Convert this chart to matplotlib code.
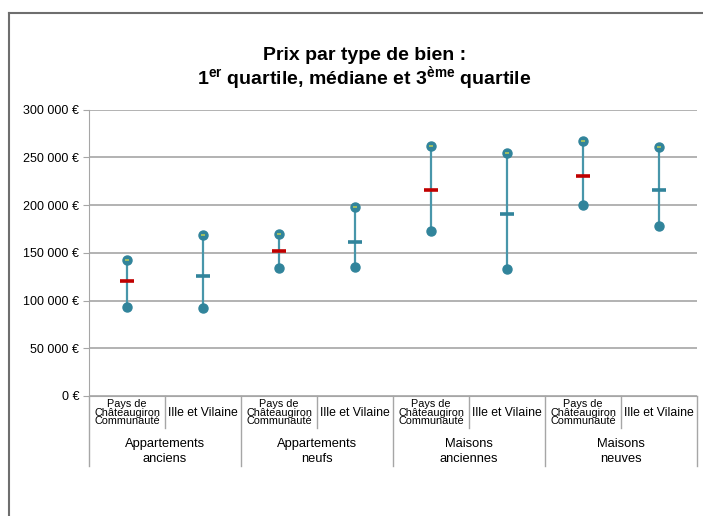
import matplotlib
matplotlib.use("Agg")
import matplotlib.pyplot as plt
from matplotlib.lines import Line2D

# valeurs
territoires = ["Pays de\nChâteaugiron\nCommunauté", "Ille et Vilaine"]
types_bien = ["Appartements\nanciens", "Appartements\nneufs", "Maisons\nanciennes", "Maisons\nneuves"]
q1 = [93000, 92000, 134000, 135000, 173000, 133500, 200500, 178000]
mediane = [120000, 125500, 151500, 161000, 215500, 190500, 230000, 215500]
q3 = [143000, 168500, 169500, 198500, 262000, 255000, 267500, 260500]
yticks = [0, 50000, 100000, 150000, 200000, 250000, 300000]

teal = "#31849B"
rouge = "#C00000"
gris = "#A6A6A6"
fnt = "Liberation Sans"

plt.rcParams["font.family"] = [fnt, "DejaVu Sans"]
plt.rcParams["mathtext.fontset"] = "custom"
plt.rcParams["mathtext.bf"] = fnt + ":bold"
plt.rcParams["mathtext.rm"] = fnt

fig = plt.figure(figsize=(7.03, 5.16), dpi=100)
ax = fig.add_axes([0.1266, 0.2326, 0.8649, 0.5548])

x = list(range(len(q1)))
med_col = [rouge if i % 2 == 0 else teal for i in x]

ax.vlines(x, q1, q3, color="#4896AA", lw=1.6, zorder=3)
ax.plot(x, q1, "o", color=teal, ms=6.5, zorder=4)
ax.plot(x, q3, "o", color=teal, ms=6.5, zorder=4)
ax.plot(x, q3, "_", color="#B5C95A", ms=2.5, mew=1.2, zorder=5)
for i in x:
    ax.plot(i, mediane[i], "_", color=med_col[i], ms=10.5, mew=2.6, zorder=5)

ax.set_xlim(-0.5, 7.5)
ax.set_ylim(0, 300000)
ax.set_yticks(yticks)
ax.set_yticklabels([f"{v:,}".replace(",", " ") + " €" for v in yticks], fontsize=9)
ax.yaxis.grid(True, color=gris, lw=1.2)
ax.set_axisbelow(True)
ax.set_xticks([])
for s in ["top", "right"]:
    ax.spines[s].set_visible(False)
ax.spines["left"].set_color(gris)
ax.spines["bottom"].set_color(gris)
ax.tick_params(axis="y", length=4, color=gris, pad=3)

# axe des categories a deux niveaux
tr = ax.get_xaxis_transform()
for i in x:
    if i % 2 == 0:
        ax.text(i, -0.058, territoires[0], transform=tr, ha="center", va="center",
                fontsize=7.8, linespacing=0.85)
        ax.plot([i + 0.5, i + 0.5], [0, -0.112], transform=tr, color=gris, lw=1, clip_on=False)
    else:
        ax.text(i, -0.058, territoires[1], transform=tr, ha="center", va="center", fontsize=8.8)
for k, lab in enumerate(types_bien):
    ax.text(2 * k + 0.5, -0.194, lab, transform=tr, ha="center", va="center",
            fontsize=9.3, linespacing=1.3)
for b in [-0.5, 1.5, 3.5, 5.5, 7.5]:
    ax.plot([b, b], [0, -0.245], transform=tr, color=gris, lw=1, clip_on=False)

fig.text(0.518, 0.892, "Prix par type de bien :", ha="center", va="center",
         fontsize=14, fontweight="bold")
fig.text(0.518, 0.847, r"1$^{\mathbf{er}}$ quartile, médiane et 3$^{\mathbf{ème}}$ quartile",
         ha="center", va="center", fontsize=14, fontweight="bold")

# cadre de la zone graphique
fig.add_artist(Line2D([0.0135, 1.0], [0.974, 0.974], color="#6E6E6E", lw=1.5))
fig.add_artist(Line2D([0.0135, 0.0135], [0.0, 0.974], color="#6E6E6E", lw=1.5))

fig.savefig("out.png", dpi=100)
